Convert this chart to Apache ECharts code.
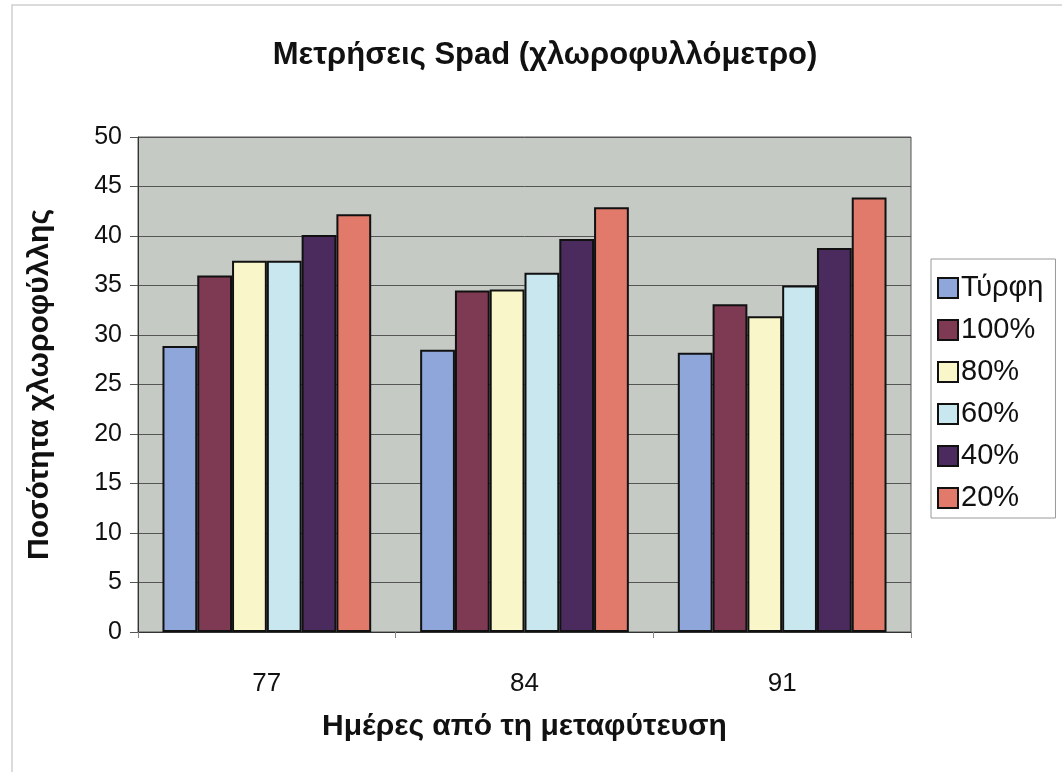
<!DOCTYPE html>
<html>
<head>
<meta charset="utf-8">
<script src="https://cdn.jsdelivr.net/npm/echarts@6/dist/echarts.min.js"></script>
<style>
html,body{margin:0;padding:0;background:#fff;}
#c{width:1062px;height:772px;}
</style>
</head>
<body>
<div id="c"></div>
<script>
const categories = ['77', '84', '91'];
const seriesNames = ['Τύρφη', '100%', '80%', '60%', '40%', '20%'];
const turfi = [28.9, 28.5, 28.2];
const p100 = [36.0, 34.5, 33.1];
const p80 = [37.5, 34.6, 31.9];
const p60 = [37.5, 36.3, 35.0];
const p40 = [40.1, 39.7, 38.8];
const p20 = [42.2, 42.9, 43.9];
const seriesValues = [turfi, p100, p80, p60, p40, p20];
const colors = ['#8fa6da', '#7d3a52', '#f9f7c9', '#c9e7ef', '#4b2b5e', '#e17a6a'];

const chart = echarts.init(document.getElementById('c'));
const font = 'Liberation Sans, Arial, sans-serif';
chart.setOption({
  animation: false,
  backgroundColor: '#ffffff',
  textStyle: { fontFamily: font, color: '#000' },
  graphic: [{
    type: 'rect', silent: true, z: -1,
    shape: { x: 12, y: 5, width: 1070, height: 790 },
    style: { fill: 'none', stroke: '#cfcfcf', lineWidth: 1.5 }
  }],
  title: {
    text: 'Μετρήσεις Spad (χλωροφυλλόμετρο)',
    left: 540, top: 35, textAlign: 'center',
    textStyle: { fontFamily: font, fontSize: 31, fontWeight: 'bold', color: '#111' }
  },
  legend: {
    orient: 'vertical',
    left: 931, top: 259,
    padding: [14, 12, 5, 6],
    itemGap: 12,
    itemWidth: 20, itemHeight: 20,
    icon: 'rect',
    borderColor: '#999', borderWidth: 1,
    backgroundColor: '#fff',
    textStyle: { fontFamily: font, fontSize: 29, lineHeight: 30, color: '#111', padding: [0, 0, 0, -2] },
    data: seriesNames
  },
  grid: { left: 138, right: 151, top: 137, bottom: 140, show: true, backgroundColor: '#c6cac5', borderColor: '#555', borderWidth: 1 },
  xAxis: {
    type: 'category',
    data: categories,
    axisLine: { show: true, lineStyle: { color: '#333', width: 1 } },
    axisTick: { show: true, length: 6, lineStyle: { color: '#888' } },
    axisLabel: { fontFamily: font, fontSize: 26, color: '#111', margin: 39 },
    name: 'Ημέρες από τη μεταφύτευση',
    nameLocation: 'middle', nameGap: 80,
    nameTextStyle: { fontFamily: font, fontSize: 30, fontWeight: 'bold', color: '#111' }
  },
  yAxis: {
    type: 'value', min: 0, max: 50, interval: 5,
    axisLine: { show: true, lineStyle: { color: '#333' } },
    axisTick: { show: true, length: 8, lineStyle: { color: '#555' } },
    splitLine: { show: true, lineStyle: { color: '#555', width: 1 } },
    axisLabel: { fontFamily: font, fontSize: 25, color: '#111', margin: 16 },
    name: 'Ποσότητα χλωροφύλλης',
    nameLocation: 'middle', nameGap: 83, nameRotate: 90,
    nameTextStyle: { fontFamily: font, fontSize: 30, fontWeight: 'bold', color: '#111' }
  },
  series: seriesNames.map((n, i) => ({
    name: n,
    type: 'bar',
    data: seriesValues[i],
    barGap: '0%',
    barCategoryGap: '19%',
    itemStyle: { color: colors[i], borderColor: '#111', borderWidth: 2 }
  }))
});
</script>
</body>
</html>
